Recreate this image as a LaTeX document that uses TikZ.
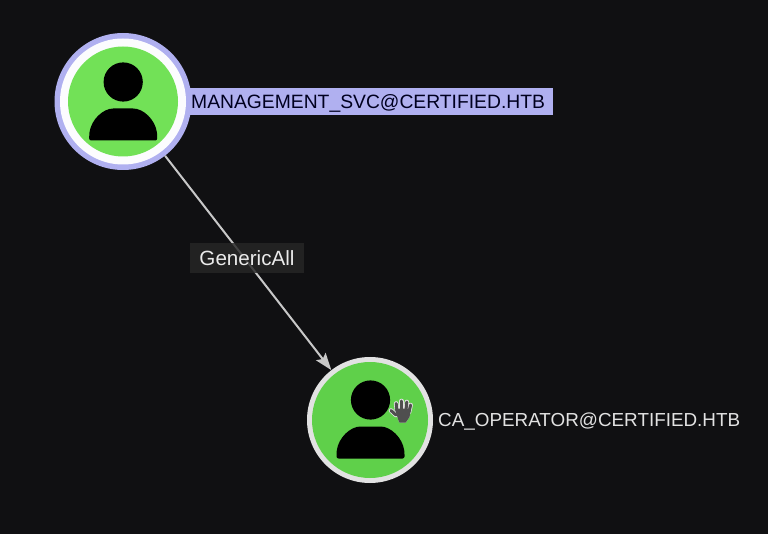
\documentclass[tikz,border=0pt]{standalone}
\usepackage{fontspec}
\setmainfont{Liberation Sans}
\usetikzlibrary{arrows.meta}
\definecolor{bgc}{HTML}{101012}
\definecolor{peri}{HTML}{B0B0F0}
\definecolor{greenA}{HTML}{72E157}
\definecolor{greenB}{HTML}{5FD04A}
\definecolor{ringB}{HTML}{E2E2E2}
\definecolor{edgec}{HTML}{C8C8C8}
\definecolor{handc}{HTML}{4F4F4F}
\definecolor{labelbg}{HTML}{262626}
\tikzset{
  nodeouter/.style={circle,inner sep=0pt,minimum size=#1},
  glyph/.style={fill=black,draw=none},
  namebox/.style={fill=peri,inner sep=0pt,minimum height=27pt,minimum width=363pt,anchor=west},
  nametext/.style={text=ringB,inner sep=0pt,anchor=west},
  edgelabel/.style={fill=labelbg,fill opacity=.82,text opacity=1,text=white!92!black,inner sep=0pt,minimum width=114pt,minimum height=30pt},
  connector/.style={edgec,line width=2pt,-{Stealth[length=17pt,width=12pt,inset=3pt]}},
  finger/.style={line cap=round,draw=#1},
}
\newcommand{\personglyph}[2]{%
  \fill[glyph] (#1,#2-19.5) circle[radius=19.6];
  \fill[glyph,rounded corners=2pt] (#1-34,#2+39) -- (#1-34,#2+33) .. controls (#1-32,#2+18) and (#1-20,#2+7) .. (#1-8,#2+7) -- (#1+8,#2+7) .. controls (#1+20,#2+7) and (#1+32,#2+18) .. (#1+34,#2+33) -- (#1+34,#2+39) -- cycle;
}
\newcommand{\handstroke}[2]{%
  \draw[finger=#1,line width=#2] (391,410.5) -- (396,415);
  \draw[finger=#1,line width=#2] (397,411) -- (396.2,403.5);
  \draw[finger=#1,line width=#2] (401.6,410) -- (401.6,401);
  \draw[finger=#1,line width=#2] (406,410) -- (406.8,402);
  \draw[finger=#1,line width=#2] (409,412) -- (410.6,405);
  \fill[#1,draw=#1,line width=1pt,line join=round] (395.5,409) -- (410.5,409) -- (409,417) -- (405.5,422) -- (399.5,422) -- cycle;
}
\begin{document}
\begin{tikzpicture}[x=1pt,y=-1pt]
\useasboundingbox (0,0) rectangle (768,534);
\fill[bgc] (0,0) rectangle (768,534);
% label strip first, ring sits over it
\node[namebox] (labelA) at (190,101.5) {};
% nodes
\node[nodeouter=137pt,fill=peri] (mgmt) at (123,101.5) {};
\node[nodeouter=126pt,fill=white!96!peri] (mgmtring) at (mgmt.center) {};
\node[nodeouter=110pt,fill=greenA] (mgmtcore) at (mgmt.center) {};
\personglyph{123.2}{101.5}
\node[nodeouter=126pt,fill=ringB] (caop) at (370,420) {};
\node[nodeouter=116pt,fill=greenB] (caopcore) at (caop.center) {};
\personglyph{370.5}{419.5}
% hand badge
\handstroke{ringB}{4.6pt}
\handstroke{handc}{3pt}
% connector
\draw[connector] (mgmt) -- (caop);
\node[edgelabel,font=\fontsize{20.6pt}{22pt}\selectfont] (edge) at (247,258) {GenericAll};
% texts
\node[nametext,text=black!88!blue,font=\fontsize{19.3pt}{22pt}\selectfont] (nameA) at (191,103) {MANAGEMENT\_SVC@CERTIFIED.HTB};
\node[nametext,font=\fontsize{18.85pt}{22pt}\selectfont] (nameB) at (438,421.5) {CA\_OPERATOR@CERTIFIED.HTB};
\end{tikzpicture}
\end{document}
